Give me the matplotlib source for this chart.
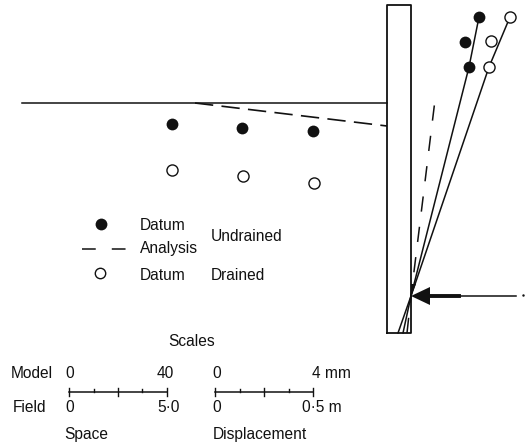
#!/usr/bin/env python3
"""Wall and ground displacement: datum points, analysis lines and scale bars."""

import matplotlib
matplotlib.use('Agg')
import matplotlib.pyplot as plt

plt.rcParams['font.family'] = ['Liberation Sans', 'DejaVu Sans']

# Ground surface points (drawing coordinates, y downwards)
ground_x = [172, 242, 313]
ground_undrained_y = [124, 128, 131]
ground_drained_x = [172, 243, 314]
ground_drained_y = [170, 176, 183]

# Points beside the wall
wall_undrained_x = [479, 465, 469]
wall_undrained_y = [17, 42, 67]
wall_drained_x = [510, 491, 489]
wall_drained_y = [17, 41, 67]

# Lines through the wall pivot
undrained_line_x = [398, 411, 469, 479]
undrained_line_y = [333, 296, 67, 17]
drained_line_x = [403, 411, 489, 510]
drained_line_y = [333, 296, 67, 17]
analysis_wall_x = [407, 411, 435]
analysis_wall_y = [333, 296, 100]
analysis_ground_x = [195, 387]
analysis_ground_y = [103, 126]
surface_x = [22, 387]
surface_y = [103, 103]

# Wall outline
wall_x = [387, 387, 411, 411, 387]
wall_y = [333, 5, 5, 333, 333]

# Scale bars
space_ticks = [69, 94, 118, 142, 167]
disp_ticks = [215, 240, 264, 289, 313]

fig = plt.figure(figsize=(5.26, 4.43), dpi=100)
ax = fig.add_axes([0, 0, 1, 1])
ax.set_xlim(0, 526)
ax.set_ylim(443, 0)
ax.axis('off')

ink = '#111111'
FS = 11.2

ax.plot(surface_x, surface_y, color=ink, lw=1.1)
ax.plot(analysis_ground_x, analysis_ground_y, color=ink, lw=1.2, dashes=(11, 5))
ax.plot(wall_x, wall_y, color=ink, lw=1.3)

ax.plot(undrained_line_x, undrained_line_y, color=ink, lw=1.1)
ax.plot(drained_line_x, drained_line_y, color=ink, lw=1.1)
ax.plot(analysis_wall_x, analysis_wall_y, color=ink, lw=1.1, dashes=(10, 10))

# Filled and open points
ax.plot(ground_x, ground_undrained_y, 'o', color=ink, ms=8.5, mew=0)
ax.plot(wall_undrained_x, wall_undrained_y, 'o', color=ink, ms=8.5, mew=0)
ax.plot(ground_drained_x, ground_drained_y, 'o', mfc='white', mec=ink, ms=8, mew=1.0)
ax.plot(wall_drained_x, wall_drained_y, 'o', mfc='white', mec=ink, ms=8, mew=1.0, zorder=5)

# Load arrow
ax.plot([459, 516], [296, 296], color=ink, lw=1.1)
ax.plot([428, 459], [296, 296], color=ink, lw=2.8)
ax.fill([411, 430, 430], [296, 287, 305], color=ink, lw=0)
ax.fill([411, 411, 416], [296, 284, 284], color=ink, lw=0)
ax.plot([523], [295], '.', color=ink, ms=1.5)

# Legend
ax.plot([101], [224], 'o', color=ink, ms=8.5, mew=0)
ax.plot([82, 126], [249, 249], color=ink, lw=1.1, dashes=(9, 10.5))
ax.plot([100], [273], 'o', mfc='white', mec=ink, ms=7.5, mew=1.0)
for x, y, s in [(140, 225, 'Datum'), (140, 249, 'Analysis'), (140, 276, 'Datum'),
                (211, 236, 'Undrained'), (211, 276, 'Drained')]:
    ax.text(x, y, s, fontsize=FS, color=ink, va='center')

# Scale bars
for ticks in (space_ticks, disp_ticks):
    ax.plot([ticks[0], ticks[-1]], [392, 392], color=ink, lw=1.1)
    for i, t in enumerate(ticks):
        h = 4 if i % 2 == 0 else 3
        ax.plot([t, t], [392 - h, 392 + (h if i % 2 == 0 else 0)], color=ink, lw=1.0)

for x, y, s in [(168, 342, 'Scales'),
                (11, 374, 'Model'), (65, 374, '0'), (157, 374, '40'),
                (212, 374, '0'), (312, 374, '4 mm'),
                (13, 408, 'Field'), (65, 408, '0'), (157, 408, '5·0'),
                (212, 408, '0'), (302, 408, '0·5 m'),
                (64, 434, 'Space'), (213, 434, 'Displacement')]:
    ax.text(x, y, s, fontsize=FS, color=ink, va='center')

plt.savefig('out.png', dpi=100, facecolor='white')
plt.close()
